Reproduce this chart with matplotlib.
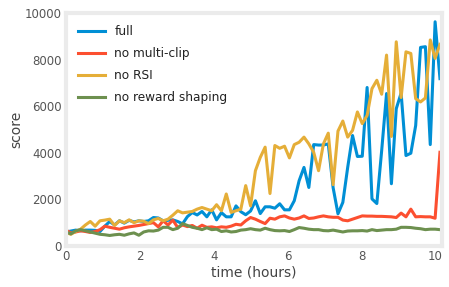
import numpy as np
import matplotlib
matplotlib.use('Agg')
import matplotlib.pyplot as plt

full = [600, 640, 680, 650, 680, 680, 670, 620, 850, 1050, 900, 1080, 980, 1100, 1030, 1080,
        1050, 1080, 1220, 1200, 1080, 1100, 1120, 1050, 950, 1260, 1435, 1330, 1480, 1250,
        1550, 1120, 1430, 1250, 1250, 1720, 1470, 1340, 1500, 1940, 1390, 1680, 1680, 1620,
        1810, 1550, 1550, 1940, 2800, 3370, 2510, 4350, 4330, 4330, 4380, 2500, 1380, 1870,
        3370, 4740, 3840, 3850, 6800, 2020, 1820, 4100, 6540, 2670, 5890, 6560, 3880, 3980,
        5170, 8520, 8550, 4350, 9620, 7180]
no_multiclip = [680, 560, 600, 650, 620, 580, 620, 700, 850, 800, 760, 720, 780, 820, 850, 880,
                920, 960, 1000, 820, 1080, 900, 1110, 790, 900, 830, 880, 760, 890, 800,
                820, 780, 820, 800, 850, 930, 900, 1080, 1220, 1150, 1050, 960, 1190, 1150,
                1250, 1290, 1200, 1150, 1200, 1290, 1180, 1200, 1250, 1290, 1250, 1230, 1230, 1110,
                1080, 1150, 1220, 1290, 1280, 1280, 1270, 1270, 1260, 1250, 1220, 1410, 1250, 1580,
                1250, 1260, 1250, 1250, 1190, 4020]
no_rsi = [580, 500, 620, 720, 900, 1050, 850, 1080, 1110, 1150, 880, 1080, 1000, 1120, 1000, 1080,
          1060, 960, 1120, 1180, 1080, 1150, 1320, 1510, 1420, 1450, 1480, 1580, 1650, 1580,
          1510, 1770, 1510, 2230, 1440, 1510, 1580, 2590, 1720, 3230, 3800, 4240, 2250, 4310,
          4190, 4280, 3780, 4350, 4450, 4670, 4380, 4020, 3230, 4380, 4840, 2630, 4930, 5360,
          4670, 4960, 5750, 5250, 5600, 6750, 7110, 6510, 8190, 4700, 8760, 6370, 8330, 8260,
          6320, 6180, 6350, 8840, 8050, 8650]
no_shaping = [600, 520, 650, 700, 650, 600, 550, 500, 480, 450, 480, 500, 460, 520, 560, 460,
              600, 650, 640, 680, 800, 800, 700, 760, 960, 880, 800, 760, 700, 780,
              700, 720, 620, 650, 600, 620, 680, 700, 740, 700, 680, 760, 700, 660,
              650, 660, 620, 700, 790, 760, 720, 700, 700, 660, 650, 680, 640, 600,
              640, 650, 650, 660, 640, 700, 660, 680, 700, 700, 720, 800, 800, 790,
              760, 740, 700, 720, 720, 700]
hours = np.linspace(0, 10.12, len(full))

labels = ['full', 'no multi-clip', 'no RSI', 'no reward shaping']
colors = ['#008fd5', '#fc4f30', '#e5ae38', '#6d904f']

fig = plt.figure(figsize=(4.49, 2.87), dpi=100)
ax = fig.add_axes([0.147, 0.143, 0.837, 0.812])

for y, lab, c in zip([full, no_multiclip, no_rsi, no_shaping], labels, colors):
    ax.plot(hours, y, color=c, lw=2.2, label=lab)

ax.set_xlim(0, 10.17)
ax.set_ylim(0, 10000)
ax.set_xticks([0, 2, 4, 6, 8, 10])
ax.set_yticks([0, 2000, 4000, 6000, 8000, 10000])
ax.tick_params(length=0, labelsize=8.5, colors='#555555', pad=3)
for s in ax.spines.values():
    s.set_color('#ebebeb')
    s.set_linewidth(3)
ax.set_xlabel('time (hours)', fontsize=10, color='#444444', labelpad=2)
ax.set_ylabel('score', fontsize=10, color='#444444', labelpad=1)

leg = ax.legend(loc='upper left', frameon=False, fontsize=8.7, handlelength=2.2,
                labelspacing=0.75, borderaxespad=0.6)
for t in leg.get_texts():
    t.set_color('#222222')

fig.savefig('out.png', dpi=100)
